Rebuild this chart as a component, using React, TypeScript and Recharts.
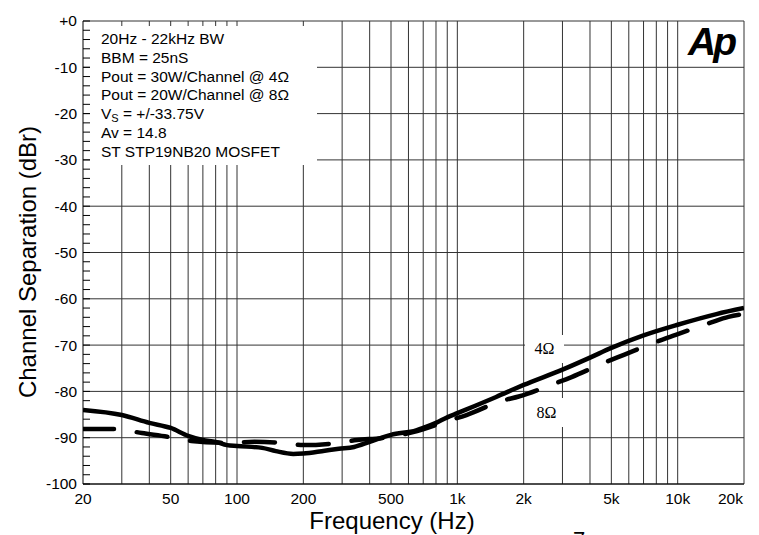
import {
  CartesianGrid,
  ComposedChart,
  Line,
  XAxis,
  YAxis,
} from 'recharts';

// 4 ohm curve (solid), frequency in Hz / separation in dBr
const FREQ_4 = [20, 30, 40, 50, 60, 70, 80, 90, 100, 130, 150, 180, 200, 250, 290, 340, 400, 500, 650, 700, 800, 900, 1000, 1500, 2000, 3000, 4000, 5000, 7000, 10000, 15000, 20000];
const SEP_4 = [-84.0, -85.1, -86.8, -87.9, -89.6, -90.5, -90.9, -91.6, -91.8, -92.2, -92.9, -93.5, -93.4, -92.8, -92.4, -92.0, -90.9, -89.4, -88.4, -87.9, -86.8, -85.6, -84.7, -81.2, -78.6, -75.3, -72.7, -70.6, -67.9, -65.6, -63.3, -62.0];

// 8 ohm curve (dashed)
const FREQ_8 = [20, 28, 37, 50, 62, 90, 120, 160, 200, 290, 350, 450, 630, 900, 1100, 1600, 1900, 2800, 3300, 4700, 5700, 8000, 9800, 14000, 17000, 20000];
const SEP_8 = [-88.1, -88.1, -89.0, -89.9, -90.7, -91.1, -90.9, -91.1, -91.6, -91.1, -90.5, -90.1, -88.8, -86.4, -85.1, -82.0, -81.1, -78.2, -76.9, -73.7, -72.1, -69.3, -67.8, -65.2, -63.9, -63.3];

const X_TICKS = [20, 50, 100, 200, 500, 1000, 2000, 5000, 10000, 20000];
const X_GRID = [30, 40, 50, 60, 70, 80, 90, 100, 200, 300, 400, 500, 600, 700, 800, 900, 1000, 2000, 3000, 4000, 5000, 6000, 7000, 8000, 9000, 10000, 20000];
const Y_MAJOR = [0, -10, -20, -30, -40, -50, -60, -70, -80, -90, -100];
const Y_MINOR = Array.from({ length: 51 }, (_, i) => -2 * i);

const NOTES = [
  '20Hz - 22kHz BW',
  'BBM = 25nS',
  'Pout = 30W/Channel @ 4Ω',
  'Pout = 20W/Channel @ 8Ω',
  'VS',
  'Av = 14.8',
  'ST STP19NB20 MOSFET',
];

const data4 = FREQ_4.map((f, i) => ({ f, v: SEP_4[i] }));
const data8 = FREQ_8.map((f, i) => ({ f, v: SEP_8[i] }));

const SANS = '"Liberation Sans", Arial, sans-serif';
const SERIF = '"Liberation Serif", "Times New Roman", serif';
const TICK_MARGIN = 6;

function fmtFreq(v: number): string {
  return v >= 1000 ? `${v / 1000}k` : String(v);
}

function XTick(props: any) {
  const { x, y, payload } = props;
  const last = payload.value === X_TICKS[X_TICKS.length - 1];
  return (
    <text
      x={last ? x - 1 : x}
      y={y}
      dy="0.71em"
      textAnchor={last ? 'end' : 'middle'}
      fontSize={15.5}
      fontFamily={SANS}
      fill="#000"
    >
      {fmtFreq(payload.value)}
    </text>
  );
}

function YTick(props: any) {
  const { x, y, payload } = props;
  const v = payload.value as number;
  const axisX = x + TICK_MARGIN;
  const major = v % 10 === 0;
  return (
    <g>
      <line x1={axisX} x2={axisX + 7} y1={y} y2={y} stroke="#000" />
      {major && (
        <text x={x} y={y} dy="0.35em" textAnchor="end" fontSize={15.5} fontFamily={SANS} fill="#000">
          {v === 0 ? '+0' : String(v)}
        </text>
      )}
    </g>
  );
}

export default function App() {
  return (
    <div
      style={{
        position: 'absolute',
        left: 0,
        top: 0,
        width: 759,
        height: 535,
        overflow: 'hidden',
        background: '#fff',
        fontFamily: SANS,
      }}
    >
      <ComposedChart width={759} height={535} margin={{ top: 21, right: 15, bottom: 0, left: 0 }}>
        <CartesianGrid
          stroke="#333"
          horizontalValues={Y_MAJOR}
          verticalValues={X_GRID}
        />
        <XAxis
          xAxisId="top"
          orientation="top"
          type="number"
          dataKey="f"
          scale="log"
          domain={[20, 20000]}
          allowDataOverflow
          ticks={X_GRID}
          interval={0}
          height={0}
          mirror
          tick={false}
          tickSize={5}
          tickLine={{ stroke: '#000' }}
          axisLine={{ stroke: '#888' }}
        />
        <XAxis
          type="number"
          dataKey="f"
          scale="log"
          domain={[20, 20000]}
          allowDataOverflow
          ticks={X_TICKS}
          interval={0}
          height={51}
          tickLine={false}
          tickSize={0}
          tickMargin={9}
          tick={<XTick />}
          axisLine={{ stroke: '#000' }}
          label={{
            content: () => (
              <text x={392} y={529} textAnchor="middle" fontSize={24} fontFamily={SANS} fill="#000">
                Frequency (Hz)
              </text>
            ),
          }}
        />
        <YAxis
          type="number"
          domain={[-100, 0]}
          ticks={Y_MINOR}
          interval={0}
          width={83}
          tickLine={false}
          tickSize={0}
          tickMargin={TICK_MARGIN}
          tick={<YTick />}
          axisLine={{ stroke: '#000' }}
          label={{
            content: () => (
              <text
                x={36}
                y={262}
                transform="rotate(-90, 36, 262)"
                textAnchor="middle"
                fontSize={24}
                fontFamily={SANS}
                fill="#000"
              >
                Channel Separation (dBr)
              </text>
            ),
          }}
        />
        <Line
          data={data8}
          dataKey="v"
          type="monotone"
          stroke="#000"
          strokeWidth={4.5}
          strokeDasharray="31 23"
          strokeLinecap="round"
          dot={false}
          activeDot={false}
          isAnimationActive={false}
        />
        <Line
          data={data4}
          dataKey="v"
          type="monotone"
          stroke="#000"
          strokeWidth={4.5}
          dot={false}
          activeDot={false}
          isAnimationActive={false}
        />
      </ComposedChart>

      {/* notes box */}
      <div
        style={{
          position: 'absolute',
          left: 90,
          top: 26,
          width: 227,
          height: 139,
          background: '#fff',
          boxSizing: 'border-box',
          paddingLeft: 11,
          paddingTop: 3.7,
          fontSize: 15.5,
          lineHeight: '18.9px',
          color: '#000',
          whiteSpace: 'nowrap',
        }}
      >
        {NOTES.map((t) =>
          t === 'VS' ? (
            <div key={t}>
              V<sub style={{ fontSize: 11, verticalAlign: -3, lineHeight: 0 }}>S</sub> = +/-33.75V
            </div>
          ) : (
            <div key={t}>{t}</div>
          ),
        )}
      </div>

      {/* curve labels */}
      <div
        style={{
          position: 'absolute',
          left: 525,
          top: 335,
          width: 39,
          height: 28,
          background: '#fff',
          fontFamily: SERIF,
          fontSize: 16,
          lineHeight: '28px',
          textAlign: 'center',
        }}
      >
        4Ω
      </div>
      <div
        style={{
          position: 'absolute',
          left: 525,
          top: 398,
          width: 39,
          height: 29,
          background: '#fff',
          fontFamily: SERIF,
          fontSize: 16,
          lineHeight: '29px',
          textAlign: 'center',
          paddingLeft: 4,
          boxSizing: 'border-box',
        }}
      >
        8Ω
      </div>

      {/* logo */}
      <div
        style={{
          position: 'absolute',
          left: 688,
          top: 22,
          fontSize: 39,
          lineHeight: '39px',
          fontWeight: 'bold',
          fontStyle: 'italic',
          letterSpacing: -3,
        }}
      >
        Ap
      </div>

      {/* page number, cut off at the bottom as in the source */}
      <div style={{ position: 'absolute', left: 573, top: 529, fontSize: 22, lineHeight: '22px' }}>7</div>
    </div>
  );
}
